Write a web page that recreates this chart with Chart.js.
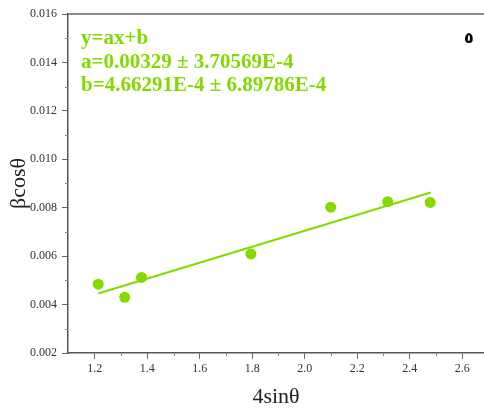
<!DOCTYPE html>
<html>
<head>
<meta charset="utf-8">
<script src="https://cdn.jsdelivr.net/npm/chart.js@4.4.1/dist/chart.umd.min.js"></script>
<style>
  html, body { margin: 0; padding: 0; background: #fff; }
  #wrap { width: 484px; height: 410px; }
</style>
</head>
<body>
<div id="wrap"><canvas id="c"></canvas></div>
<script>
// measured points (4sinθ, βcosθ)
var xVals = [1.213, 1.314, 1.378, 1.795, 2.099, 2.316, 2.478];
var yVals = [0.00484, 0.00430, 0.00512, 0.00609, 0.00802, 0.00825, 0.00822];

// linear fit y = a*x + b (values printed on the chart)
var fitA = 0.00329;
var fitB = 4.66291e-4;
var fitX = [1.213, 2.48];

var xTicks = [1.2, 1.4, 1.6, 1.8, 2.0, 2.2, 2.4, 2.6];
var yTicks = [0.002, 0.004, 0.006, 0.008, 0.010, 0.012, 0.014, 0.016];

var fitText = ['y=ax+b', 'a=0.00329 \u00b1 3.70569E-4', 'b=4.66291E-4 \u00b1 6.89786E-4'];
var figMark = '\u0665';

var green = '#84d900';
var serif = '"Liberation Serif", "Times New Roman", serif';

function midpoints(arr) {
  var out = [];
  for (var i = 0; i < arr.length - 1; i++) out.push((arr[i] + arr[i + 1]) / 2);
  return out;
}

// minor ticks, top frame line and the fit text
var extras = {
  id: 'extras',
  afterDraw: function (chart) {
    var ctx = chart.ctx;
    var area = chart.chartArea;
    var xs = chart.scales.x, ys = chart.scales.y;
    ctx.save();
    ctx.strokeStyle = '#888';
    ctx.lineWidth = 1;
    midpoints(xTicks).forEach(function (v) {
      var px = Math.round(xs.getPixelForValue(v)) + 0.5;
      ctx.beginPath(); ctx.moveTo(px, area.bottom); ctx.lineTo(px, area.bottom + 3); ctx.stroke();
    });
    midpoints(yTicks).forEach(function (v) {
      var py = Math.round(ys.getPixelForValue(v)) + 0.5;
      ctx.beginPath(); ctx.moveTo(area.left, py); ctx.lineTo(area.left - 3, py); ctx.stroke();
    });
    // top frame
    ctx.strokeStyle = '#666';
    ctx.lineWidth = 1.5;
    ctx.beginPath(); ctx.moveTo(area.left, area.top); ctx.lineTo(chart.width, area.top); ctx.stroke();

    ctx.fillStyle = green;
    ctx.font = 'bold 21px ' + serif;
    ctx.textBaseline = 'alphabetic';
    ctx.textAlign = 'left';
    fitText.forEach(function (t, i) {
      ctx.fillText(t, 81, 44 + i * 23.5);
    });

    ctx.fillStyle = '#000';
    ctx.font = 'bold 16px "DejaVu Sans"';
    ctx.textAlign = 'center';
    ctx.fillText(figMark, 469, 43);
    ctx.restore();
  }
};

var pts = xVals.map(function (x, i) { return { x: x, y: yVals[i] }; });
var fitPts = fitX.map(function (x) { return { x: x, y: fitA * x + fitB }; });

new Chart(document.getElementById('c'), {
  type: 'scatter',
  data: {
    datasets: [{
      data: pts,
      backgroundColor: green,
      borderColor: green,
      pointRadius: 5.5,
      pointBorderWidth: 0
    }, {
      type: 'line',
      data: fitPts,
      borderColor: green,
      borderWidth: 2,
      pointRadius: 0,
      fill: false
    }]
  },
  options: {
    responsive: true,
    maintainAspectRatio: false,
    animation: false,
    layout: { autoPadding: false, padding: { top: 14, right: 0, left: 0, bottom: 0 } },
    plugins: { legend: { display: false }, tooltip: { enabled: false } },
    scales: {
      x: {
        type: 'linear',
        min: 1.098,
        max: 2.683,
        afterBuildTicks: function (scale) {
          scale.ticks = xTicks.map(function (v) { return { value: v }; });
        },
        afterFit: function (scale) { scale.height = 57; },
        border: { color: '#555', width: 1.5 },
        grid: { drawOnChartArea: false, drawTicks: true, tickLength: 6, color: '#666' },
        ticks: {
          padding: 3,
          color: '#333',
          font: { family: serif, size: 12 },
          maxRotation: 0,
          callback: function (v) { return v.toFixed(1); }
        },
        title: {
          display: true,
          text: '4sin\u03b8',
          color: '#222',
          font: { family: serif, size: 22 },
          padding: { top: 0, bottom: 0 }
        }
      },
      y: {
        type: 'linear',
        min: 0.002,
        max: 0.016,
        afterBuildTicks: function (scale) {
          scale.ticks = yTicks.map(function (v) { return { value: v }; });
        },
        afterFit: function (scale) { scale.width = 68; },
        border: { color: '#555', width: 1.5 },
        grid: { drawOnChartArea: false, drawTicks: true, tickLength: 6, color: '#666' },
        ticks: {
          padding: 5,
          color: '#333',
          font: { family: serif, size: 12 },
          callback: function (v) { return v.toFixed(3); }
        },
        title: {
          display: true,
          text: '\u03b2cos\u03b8',
          color: '#222',
          font: { family: serif, size: 22 },
          padding: { top: 6, bottom: 0 }
        }
      }
    }
  },
  plugins: [extras]
});
</script>
</body>
</html>
